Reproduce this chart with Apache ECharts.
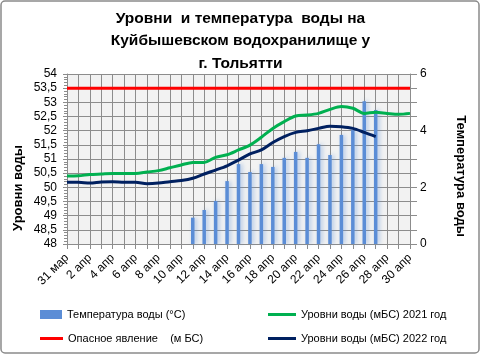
<!DOCTYPE html>
<html>
<head>
<meta charset="utf-8">
<script src="https://cdn.jsdelivr.net/npm/echarts@6/dist/echarts.min.js"></script>
<style>html,body{margin:0;padding:0;background:#fff}#c{width:481px;height:355px}</style>
</head>
<body>
<div id="c"></div>
<script>
var categories = ['31 мар','1 апр','2 апр','3 апр','4 апр','5 апр','6 апр','7 апр','8 апр','9 апр','10 апр','11 апр','12 апр','13 апр','14 апр','15 апр','16 апр','17 апр','18 апр','19 апр','20 апр','21 апр','22 апр','23 апр','24 апр','25 апр','26 апр','27 апр','28 апр','29 апр','30 апр'];
var waterTemp = [null,null,null,null,null,null,null,null,null,null,null,0.93,1.2,1.52,2.22,2.82,2.54,2.82,2.72,3.04,3.25,3.04,3.52,3.14,3.85,4.02,5.04,4.73,null,null,null];
var level2021 = [50.40,50.41,50.45,50.47,50.49,50.49,50.49,50.54,50.59,50.69,50.79,50.88,50.88,51.06,51.15,51.32,51.49,51.77,52.08,52.32,52.52,52.55,52.61,52.75,52.85,52.79,52.61,52.65,52.61,52.58,52.61];
var level2022 = [50.18,50.18,50.15,50.19,50.20,50.18,50.18,50.13,50.15,50.20,50.24,50.32,50.47,50.61,50.76,50.96,51.18,51.32,51.58,51.79,51.94,52.00,52.08,52.16,52.14,52.08,51.94,51.79];
var dangerLevel = [53.5,53.5,53.5,53.5,53.5,53.5,53.5,53.5,53.5,53.5,53.5,53.5,53.5,53.5,53.5,53.5,53.5,53.5,53.5,53.5,53.5,53.5,53.5,53.5,53.5,53.5,53.5,53.5,53.5,53.5,53.5];

var names = {
  temp: 'Температура воды (°С)',
  danger: 'Опасное явление    (м БС)',
  l2021: 'Уровни воды (мБС) 2021 год',
  l2022: 'Уровни воды (мБС) 2022 год'
};

var FONT = 'Liberation Sans';
var grid = '#8c8c8c';
var chart = echarts.init(document.getElementById('c'));
var legendText = {fontFamily: FONT, fontSize: 11, color: '#000'};
chart.setOption({
  animation: false,
  backgroundColor: '#fff',
  title: {
    text: 'Уровни  и температура  воды на\nКуйбышевском водохранилище у\nг. Тольятти',
    left: 'center', top: 2,
    textStyle: {fontFamily: FONT, fontSize: 15.5, fontWeight: 'bold', lineHeight: 22.5, color: '#000'}
  },
  legend: [
    {left: 40, top: 309, icon: 'rect', itemWidth: 22, itemHeight: 9, itemGap: 0, data: [names.temp], textStyle: legendText, padding: 0},
    {left: 40, top: 333, icon: 'rect', itemWidth: 23, itemHeight: 3, data: [names.danger], textStyle: legendText, padding: 0},
    {left: 268, top: 309, icon: 'rect', itemWidth: 28, itemHeight: 3, data: [names.l2021], textStyle: legendText, padding: 0},
    {left: 268, top: 333, icon: 'rect', itemWidth: 28, itemHeight: 3, data: [names.l2022], textStyle: legendText, padding: 0}
  ],
  grid: {left: 67, right: 71, top: 74, bottom: 111, show: true, backgroundColor: '#f2f2f2', borderWidth: 0},
  xAxis: {
    type: 'category', data: categories, boundaryGap: false,
    axisLine: {lineStyle: {color: grid}},
    axisTick: {show: true, interval: 0, length: 5, lineStyle: {color: grid}},
    axisLabel: {interval: 1, rotate: 45, fontFamily: FONT, fontSize: 12, color: '#000', margin: 12},
    splitLine: {show: true, interval: 0, lineStyle: {color: grid, width: 1}}
  },
  yAxis: [
    {
      type: 'value', min: 48, max: 54, interval: 0.5,
      axisLine: {show: true, lineStyle: {color: grid}},
      axisTick: {show: true, length: 4, lineStyle: {color: grid}},
      minorTick: {show: true, splitNumber: 5, length: 3, lineStyle: {color: grid}},
      axisLabel: {fontFamily: FONT, fontSize: 12, color: '#000', margin: 10,
        formatter: function (v) { return String(v).replace('.', ','); }},
      splitLine: {show: true, lineStyle: {color: grid, width: 1}}
    },
    {
      type: 'value', min: 0, max: 6, interval: 0.5, position: 'right',
      axisLine: {show: true, lineStyle: {color: grid}},
      axisTick: {show: true, length: 7, lineStyle: {color: grid}},
      axisLabel: {fontFamily: FONT, fontSize: 12, color: '#000', margin: 10,
        formatter: function (v) { return (v % 2 === 0) ? String(v) : ''; }},
      splitLine: {show: false}
    }
  ],
  graphic: [
    {type: 'rect', shape: {x: 1, y: 1, width: 478, height: 352, r: 4}, style: {fill: 'none', stroke: '#8a8a8a', lineWidth: 1.5}, silent: true},
    {type: 'text', x: 18, y: 188, rotation: Math.PI / 2,
      style: {text: 'Уровни воды', fontFamily: FONT, fontSize: 13, fontWeight: 'bold', fill: '#000', textAlign: 'center', textVerticalAlign: 'middle'}},
    {type: 'text', x: 461, y: 176, rotation: -Math.PI / 2,
      style: {text: 'Температура воды', fontFamily: FONT, fontSize: 13, fontWeight: 'bold', fill: '#000', textAlign: 'center', textVerticalAlign: 'middle'}}
  ],
  series: [
    {name: names.temp, type: 'bar', yAxisIndex: 1, data: waterTemp, barWidth: 3.5, z: 2,
      itemStyle: {color: '#5b8dd6', shadowBlur: 4, shadowColor: 'rgba(91,141,214,0.45)', shadowOffsetX: 2}},
    {name: names.danger, type: 'line', data: dangerLevel, symbol: 'none', z: 3,
      lineStyle: {color: '#ff0000', width: 3}, itemStyle: {color: '#ff0000'}},
    {name: names.l2021, type: 'line', data: level2021, symbol: 'none', smooth: 0.3, z: 3,
      lineStyle: {color: '#00b050', width: 3}, itemStyle: {color: '#00b050'}},
    {name: names.l2022, type: 'line', data: level2022, symbol: 'none', smooth: 0.3, z: 3,
      lineStyle: {color: '#002060', width: 3}, itemStyle: {color: '#002060'}}
  ]
});
</script>
</body>
</html>
